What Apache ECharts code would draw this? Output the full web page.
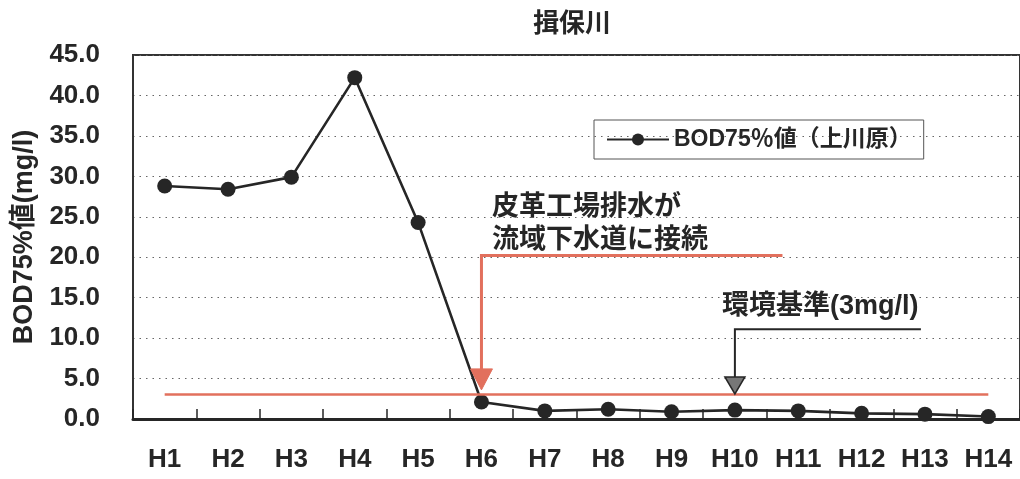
<!DOCTYPE html>
<html>
<head>
<meta charset="utf-8">
<script src="https://cdn.jsdelivr.net/npm/echarts@6/dist/echarts.min.js"></script>
<style>
  html, body { margin: 0; padding: 0; background: #fff; }
  #chart { width: 1020px; height: 479px; }
</style>
</head>
<body>
<div id="chart"></div>
<script>
// 揖保川 (上川原) BOD 75% values by fiscal year
const years = ['H1', 'H2', 'H3', 'H4', 'H5', 'H6', 'H7', 'H8', 'H9', 'H10', 'H11', 'H12', 'H13', 'H14'];
const bod75 = [28.8, 28.4, 29.9, 42.2, 24.3, 2.1, 1.0, 1.2, 0.9, 1.1, 1.0, 0.7, 0.6, 0.3];
const envStandard = 3;            // 環境基準 3mg/l
const yTicks = [0, 5, 10, 15, 20, 25, 30, 35, 40, 45];

const FONT = "'Liberation Sans','Noto Sans CJK JP',sans-serif";
const INK = '#262626';
const RED = '#e2705d';

const chart = echarts.init(document.getElementById('chart'));

chart.setOption({
  backgroundColor: '#fff',
  animation: false,
  title: {
    text: '揖保川',
    left: 567,
    top: 7,
    textAlign: 'center',
    textStyle: { fontFamily: FONT, fontSize: 26, fontWeight: 'bold', color: INK }
  },
  legend: {
    left: 594,
    top: 120,
    padding: [8, 12, 8, 12],
    borderColor: '#555',
    borderWidth: 1,
    itemWidth: 62,
    itemHeight: 15,
    itemGap: 6,
    textStyle: { fontFamily: FONT, fontSize: 23, fontWeight: 'bold', color: INK }
  },
  grid: {
    left: 133,
    top: 55,
    right: -2,
    bottom: 60,
    show: true,
    borderColor: '#333',
    borderWidth: 2,
    backgroundColor: 'transparent'
  },
  xAxis: {
    type: 'category',
    data: years,
    boundaryGap: true,
    axisLine: { lineStyle: { color: INK, width: 3 } },
    axisTick: { show: true, inside: true, length: 10, lineStyle: { color: INK, width: 1.5 } },
    axisLabel: { margin: 28, fontFamily: FONT, fontSize: 26, fontWeight: 'bold', color: INK },
    splitLine: { show: false }
  },
  yAxis: {
    type: 'value',
    min: yTicks[0],
    max: yTicks[yTicks.length - 1],
    interval: yTicks[1] - yTicks[0],
    name: 'BOD75%値(mg/l)',
    nameLocation: 'middle',
    nameRotate: 90,
    nameGap: 94,
    nameTextStyle: { fontFamily: FONT, fontSize: 27, fontWeight: 'bold', color: INK },
    axisLine: { show: true, lineStyle: { color: '#333', width: 2 } },
    axisTick: { show: false },
    axisLabel: {
      margin: 33,
      fontFamily: FONT, fontSize: 26, fontWeight: 'bold', color: INK,
      formatter: v => v.toFixed(1)
    },
    splitLine: { show: true, lineStyle: { color: '#666', width: 1.2, type: [1.5, 5] } }
  },
  series: [{
    name: 'BOD75％値（上川原）',
    type: 'line',
    data: bod75,
    symbol: 'circle',
    symbolSize: 15,
    itemStyle: { color: INK },
    lineStyle: { color: INK, width: 2.6 },
    markLine: {
      silent: true,
      symbol: ['none', 'none'],
      label: { show: false },
      lineStyle: { color: RED, width: 2.5, type: 'solid' },
      data: [[
        { coord: [years[0], envStandard] },
        { coord: [years[years.length - 1], envStandard] }
      ]]
    }
  }]
});

// Callout arrows and notes, anchored to the chart's own scales
function px(cat, val) {
  return chart.convertToPixel({ gridIndex: 0 }, [cat, val]);
}
const sewer = px('H6', 20.2);
const sewerTip = px('H6', 3.6);
const std = px('H10', 11.1);
const stdTip = px('H10', 3.1);

chart.setOption({
  graphic: [
    {
      type: 'text', left: 492, top: 191, z: 10,
      style: { text: '皮革工場排水が', font: "bold 27px 'Noto Sans CJK JP', sans-serif", fill: INK }
    },
    {
      type: 'text', left: 492, top: 224, z: 10,
      style: { text: '流域下水道に接続', font: "bold 27px 'Noto Sans CJK JP', sans-serif", fill: INK }
    },
    {
      type: 'polyline', z: 10,
      shape: { points: [[sewer[0] + 301, sewer[1]], [sewer[0], sewer[1]], [sewer[0], sewerTip[1] - 20]] },
      style: { stroke: RED, lineWidth: 3, fill: null }
    },
    {
      type: 'polygon', z: 10,
      shape: { points: [[sewer[0] - 11, sewerTip[1] - 21], [sewer[0] + 11, sewerTip[1] - 21], [sewer[0], sewerTip[1]]] },
      style: { fill: RED, stroke: RED, lineWidth: 1 }
    },
    {
      type: 'text', left: 722, top: 293, z: 10,
      style: { text: '環境基準(3mg/l)', font: "bold 27px 'Liberation Sans','Noto Sans CJK JP', sans-serif", fill: INK }
    },
    {
      type: 'polyline', z: 10,
      shape: { points: [[std[0] + 186, std[1]], [std[0], std[1]], [std[0], stdTip[1] - 16]] },
      style: { stroke: INK, lineWidth: 2, fill: null }
    },
    {
      type: 'polygon', z: 10,
      shape: { points: [[std[0] - 10, stdTip[1] - 17], [std[0] + 10, stdTip[1] - 17], [std[0], stdTip[1]]] },
      style: { fill: '#777', stroke: INK, lineWidth: 1.5 }
    }
  ]
});
</script>
</body>
</html>
